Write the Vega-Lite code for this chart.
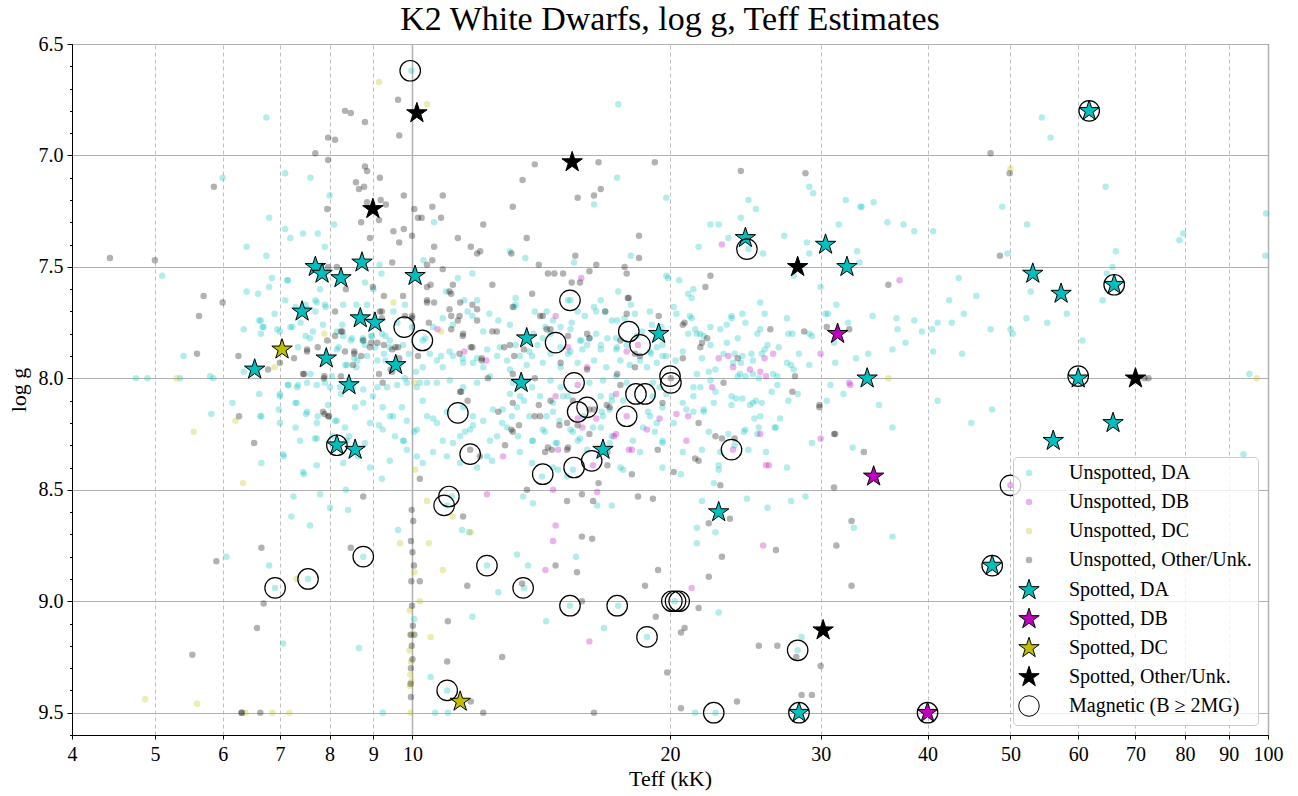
{
"$schema":"https://vega.github.io/schema/vega-lite/v6.json",
"width":1196,"height":691,
"autosize":{"type":"none"},
"padding":{"left":72,"top":44,"right":30,"bottom":61},
"background":"#ffffff",
"title":{"text":"K2 White Dwarfs, log g, Teff Estimates","font":"Liberation Serif","fontSize":34,"fontWeight":"normal","color":"#000000","offset":-3,"anchor":"middle"},
"config":{
 "view":{"stroke":"#000000","strokeWidth":1},
 "font":"Liberation Serif",
 "range":{
  "category":["rgba(0,191,191,0.3)","rgba(191,0,191,0.3)","rgba(191,191,0,0.3)","rgba(0,0,0,0.3)","#00bfbf","#bf00bf","#bfbf00","#000000","transparent"],
  "symbol":["circle","circle","circle","circle","M0,-1L0.2245,-0.309L0.951,-0.309L0.363,0.118L0.588,0.809L0,0.382L-0.588,0.809L-0.363,0.118L-0.951,-0.309L-0.2245,-0.309Z","M0,-1L0.2245,-0.309L0.951,-0.309L0.363,0.118L0.588,0.809L0,0.382L-0.588,0.809L-0.363,0.118L-0.951,-0.309L-0.2245,-0.309Z","M0,-1L0.2245,-0.309L0.951,-0.309L0.363,0.118L0.588,0.809L0,0.382L-0.588,0.809L-0.363,0.118L-0.951,-0.309L-0.2245,-0.309Z","M0,-1L0.2245,-0.309L0.951,-0.309L0.363,0.118L0.588,0.809L0,0.382L-0.588,0.809L-0.363,0.118L-0.951,-0.309L-0.2245,-0.309Z","circle"]
 },
 "legend":{"orient":"bottom-right","direction":"vertical","offset":10,"padding":6,"fillColor":"rgba(255,255,255,0.8)","strokeColor":"#cccccc","cornerRadius":4,"labelFont":"Liberation Serif","labelFontSize":20,"labelColor":"#000000","labelLimit":400,"labelOffset":30,"rowPadding":5,"symbolSize":460,"symbolStrokeWidth":1,"symbolOpacity":1}
},
"datasets":{
"uda":[
{"t":9.97,"g":6.62},{"t":6.75,"g":6.83},{"t":6.0,"g":7.1},{"t":7.1,"g":7.08},{"t":7.6,"g":7.1},{"t":8.0,"g":7.18},{"t":6.8,"g":7.28},{"t":7.1,"g":7.33},{"t":7.2,"g":7.37},{"t":7.45,"g":7.35},{"t":7.75,"g":7.35},{"t":8.1,"g":7.31},{"t":7.9,"g":7.41},{"t":6.4,"g":7.41},{"t":6.75,"g":7.45},{"t":5.1,"g":7.54},{"t":6.85,"g":7.55},{"t":7.15,"g":7.56},{"t":6.8,"g":7.59},{"t":6.6,"g":7.62},{"t":6.4,"g":7.61},{"t":7.1,"g":7.65},{"t":7.7,"g":7.65},{"t":7.8,"g":7.6},{"t":8.8,"g":7.57},{"t":9.0,"g":7.6},{"t":9.2,"g":7.53},{"t":9.15,"g":7.49},{"t":8.3,"g":7.67},{"t":8.6,"g":7.67},{"t":8.85,"g":7.67},{"t":7.9,"g":7.67},{"t":6.65,"g":7.74},{"t":6.35,"g":7.78},{"t":6.7,"g":7.77},{"t":7.2,"g":7.77},{"t":6.9,"g":7.71},{"t":7.5,"g":7.67},{"t":7.7,"g":7.7},{"t":7.4,"g":7.75},{"t":6.65,"g":7.8},{"t":7.0,"g":7.79},{"t":7.5,"g":7.81},{"t":7.65,"g":7.79},{"t":8.3,"g":7.81},{"t":8.5,"g":7.82},{"t":8.75,"g":7.82},{"t":8.95,"g":7.81},{"t":9.3,"g":7.81},{"t":9.5,"g":7.7},{"t":9.8,"g":7.67},{"t":5.4,"g":7.9},{"t":5.8,"g":7.99},{"t":4.75,"g":8.0},{"t":4.9,"g":8.0},{"t":5.35,"g":8.0},{"t":5.85,"g":8.0},{"t":6.35,"g":7.97},{"t":7.15,"g":8.03},{"t":7.35,"g":8.03},{"t":7.6,"g":7.98},{"t":8.2,"g":7.86},{"t":8.55,"g":7.91},{"t":8.6,"g":7.95},{"t":8.8,"g":7.85},{"t":9.05,"g":7.86},{"t":9.4,"g":7.86},{"t":9.65,"g":7.94},{"t":9.75,"g":7.85},{"t":9.9,"g":7.89},{"t":10.1,"g":7.97},{"t":9.8,"g":8.0},{"t":10.2,"g":8.02},{"t":7.9,"g":8.02},{"t":8.05,"g":7.99},{"t":8.35,"g":7.94},{"t":9.3,"g":7.92},
{"t":6.62,"g":7.74},{"t":6.68,"g":7.77},{"t":6.95,"g":7.78},{"t":7.24,"g":7.77},{"t":7.3,"g":7.68},{"t":7.53,"g":7.69},{"t":7.73,"g":7.66},{"t":7.92,"g":7.68},{"t":7.14,"g":7.56},{"t":7.59,"g":7.82},{"t":7.35,"g":7.86},{"t":7.86,"g":7.76},{"t":8.16,"g":7.79},{"t":8.28,"g":7.76},{"t":8.16,"g":7.87},{"t":8.38,"g":7.94},{"t":8.62,"g":7.92},{"t":8.85,"g":7.9},{"t":9.1,"g":7.92},{"t":9.26,"g":7.89},{"t":8.47,"g":7.83},{"t":8.74,"g":7.83},{"t":8.97,"g":7.81},{"t":9.21,"g":7.8},{"t":9.41,"g":7.83},{"t":9.6,"g":7.75},{"t":9.99,"g":7.77},{"t":10.28,"g":7.83},{"t":10.28,"g":7.95},{"t":10.48,"g":7.89},{"t":10.68,"g":7.92},{"t":10.85,"g":7.95},{"t":11.15,"g":7.9},{"t":11.46,"g":7.93},{"t":11.77,"g":7.93},{"t":12.1,"g":7.95},{"t":12.23,"g":7.87},{"t":12.56,"g":7.9},{"t":12.32,"g":7.99},{"t":11.9,"g":8.02},{"t":11.46,"g":8.04},{"t":11.06,"g":8.01},{"t":10.68,"g":8.02},{"t":10.4,"g":8.02},{"t":10.12,"g":8.04},{"t":9.85,"g":8.02},{"t":9.6,"g":8.03},{"t":9.34,"g":8.04},{"t":9.1,"g":8.04},{"t":8.76,"g":8.05},{"t":8.52,"g":8.04},{"t":8.23,"g":8.04},{"t":8.01,"g":8.04},{"t":7.73,"g":8.03},{"t":7.53,"g":8.02},{"t":7.33,"g":8.04},{"t":7.16,"g":8.03},{"t":7.0,"g":8.07},{"t":6.62,"g":8.07},{"t":6.16,"g":8.11},{"t":6.64,"g":8.17},{"t":7.0,"g":8.2},{"t":7.3,"g":8.11},{"t":7.53,"g":8.15},{"t":7.73,"g":8.2},{"t":7.97,"g":8.12},{"t":8.16,"g":8.19},{"t":8.34,"g":8.22},{"t":8.57,"g":8.13},{"t":8.76,"g":8.11},{"t":8.99,"g":8.08},{"t":9.23,"g":8.13},{"t":9.49,"g":8.17},{"t":9.72,"g":8.13},{"t":9.85,"g":8.19},{"t":10.12,"g":8.23},{"t":10.4,"g":8.17},{"t":10.68,"g":8.2},{"t":10.97,"g":8.15},{"t":11.46,"g":8.13},{"t":11.77,"g":8.17},{"t":12.1,"g":8.19},{"t":12.42,"g":8.14},{"t":11.68,"g":8.23},{"t":11.37,"g":8.26},{"t":10.85,"g":8.28},{"t":10.57,"g":8.33},{"t":10.28,"g":8.38},{"t":9.85,"g":8.32},{"t":9.54,"g":8.26},{"t":9.23,"g":8.23},{"t":8.92,"g":8.2},{"t":8.38,"g":8.28},{"t":8.07,"g":8.26},{"t":7.69,"g":8.27},{"t":7.39,"g":8.28},{"t":7.06,"g":8.34},{"t":6.66,"g":8.38},{"t":7.45,"g":8.42},{"t":7.73,"g":8.39},{"t":8.3,"g":8.38},{"t":8.92,"g":8.4},{"t":9.41,"g":8.37},{"t":9.75,"g":8.28},{"t":10.12,"g":8.35},{"t":10.97,"g":8.35},{"t":11.37,"g":8.38},{"t":11.9,"g":8.4},{"t":12.23,"g":8.35},{"t":12.56,"g":8.26},
{"t":5.82,"g":8.16},{"t":6.66,"g":8.17},{"t":7.0,"g":8.08},{"t":6.98,"g":8.14},{"t":7.3,"g":8.22},{"t":7.32,"g":8.11},{"t":7.51,"g":8.16},{"t":7.73,"g":8.27},{"t":7.75,"g":8.17},{"t":8.12,"g":8.19},{"t":8.25,"g":8.07},{"t":8.43,"g":8.26},{"t":8.8,"g":8.29},{"t":8.64,"g":8.35},{"t":7.07,"g":8.35},{"t":7.47,"g":8.43},{"t":9.21,"g":8.45},{"t":9.14,"g":8.21},{"t":9.41,"g":8.17},{"t":9.77,"g":8.28},{"t":10.05,"g":8.24},{"t":7.26,"g":8.53},{"t":7.8,"g":8.52},{"t":8.36,"g":8.5},{"t":8.01,"g":8.58},{"t":8.41,"g":8.59},{"t":7.22,"g":8.62},{"t":7.59,"g":8.66},{"t":9.62,"g":8.68},{"t":6.06,"g":8.8},{"t":6.8,"g":8.84},{"t":6.91,"g":8.94},{"t":7.55,"g":8.9},{"t":8.76,"g":8.8},{"t":7.06,"g":9.19},{"t":8.66,"g":9.21},{"t":9.23,"g":9.5},{"t":10.05,"g":9.08},
{"t":10.28,"g":8.1},{"t":10.57,"g":8.18},{"t":11.15,"g":8.29},{"t":11.52,"g":8.24},{"t":11.77,"g":8.21},{"t":12.32,"g":8.28},{"t":12.39,"g":8.37},{"t":12.73,"g":8.2},{"t":13.07,"g":8.17},{"t":13.36,"g":8.08},{"t":13.29,"g":8.26},{"t":13.83,"g":8.28},{"t":14.29,"g":8.24},{"t":14.6,"g":8.15},{"t":14.76,"g":8.29},{"t":15.0,"g":8.08},{"t":15.4,"g":8.24},{"t":15.7,"g":8.27},{"t":15.83,"g":8.17},{"t":16.26,"g":8.22},{"t":16.7,"g":8.17},{"t":17.1,"g":8.08},{"t":17.63,"g":8.1},{"t":18.1,"g":8.28},{"t":18.96,"g":8.17},{"t":19.2,"g":8.24},{"t":19.6,"g":8.28},{"t":19.8,"g":8.07},{"t":13.47,"g":8.53},{"t":13.83,"g":8.56},{"t":14.17,"g":8.44},{"t":14.8,"g":8.41},{"t":15.16,"g":8.44},{"t":15.4,"g":8.41},{"t":16.44,"g":8.57},{"t":17.1,"g":8.57},{"t":17.63,"g":8.41},{"t":13.25,"g":8.79},{"t":13.65,"g":8.84},{"t":15.53,"g":8.8},{"t":13.5,"g":8.94},{"t":15.28,"g":9.02},{"t":17.4,"g":9.02},{"t":14.33,"g":9.09},{"t":16.74,"g":9.12},{"t":18.8,"g":9.16},{"t":20.25,"g":9.0},{"t":11.75,"g":9.07},{"t":11.65,"g":8.69},{"t":12.22,"g":8.84},{"t":12.6,"g":8.96},{"t":10.5,"g":9.34},{"t":10.98,"g":9.4},{"t":10.63,"g":9.5},{"t":11.0,"g":9.5},{"t":11.43,"g":8.68},{"t":11.12,"g":8.53},{"t":10.98,"g":8.57},
{"t":20.2,"g":8.2},{"t":20.7,"g":8.11},{"t":21.3,"g":8.15},{"t":21.9,"g":8.15},{"t":22.5,"g":8.11},{"t":23.6,"g":8.08},{"t":24.3,"g":8.09},{"t":25.0,"g":8.11},{"t":25.6,"g":8.11},{"t":20.6,"g":8.43},{"t":20.7,"g":8.33},{"t":22.2,"g":8.24},{"t":22.9,"g":8.33},{"t":23.4,"g":8.25},{"t":24.5,"g":8.23},{"t":25.3,"g":8.25},{"t":22.8,"g":8.39},{"t":22.5,"g":8.47},{"t":24.6,"g":8.54},{"t":21.8,"g":8.55},{"t":21.5,"g":8.67},{"t":21.5,"g":8.74},{"t":22.6,"g":8.69},{"t":22.8,"g":9.05},{"t":21.4,"g":9.5},{"t":22.6,"g":9.5},{"t":26.0,"g":8.58},
{"t":24.7,"g":7.2},{"t":25.2,"g":7.24},{"t":24.2,"g":7.28},{"t":29.1,"g":7.14},{"t":29.4,"g":7.17},{"t":22.3,"g":7.31},{"t":22.8,"g":7.31},{"t":23.4,"g":7.37},{"t":21.6,"g":7.41},{"t":25.7,"g":7.44},{"t":27.2,"g":7.36},{"t":28.9,"g":7.39},{"t":29.1,"g":7.44},{"t":31.5,"g":7.31},{"t":32.1,"g":7.2},{"t":27.9,"g":7.54},{"t":20.5,"g":7.56},{"t":21.0,"g":7.62},{"t":21.2,"g":7.64},{"t":21.3,"g":7.6},{"t":20.2,"g":7.68},{"t":19.8,"g":7.54},{"t":25.5,"g":7.66},{"t":25.8,"g":7.71},{"t":24.3,"g":7.71},{"t":24.5,"g":7.75},{"t":23.6,"g":7.73},{"t":23.3,"g":7.76},{"t":22.9,"g":7.78},{"t":22.3,"g":7.77},{"t":21.9,"g":7.81},{"t":21.4,"g":7.78},{"t":21.1,"g":7.72},{"t":21.0,"g":7.8},{"t":21.5,"g":7.8},{"t":21.7,"g":7.8},{"t":20.7,"g":7.88},{"t":20.3,"g":7.92},{"t":22.3,"g":7.85},{"t":23.3,"g":7.84},{"t":24.0,"g":7.82},{"t":25.3,"g":7.8},{"t":25.5,"g":7.78},{"t":26.0,"g":7.85},{"t":26.8,"g":7.86},{"t":27.5,"g":7.8},{"t":27.8,"g":7.8},{"t":27.4,"g":7.73},{"t":29.1,"g":7.8},{"t":29.3,"g":7.81},{"t":30.6,"g":7.71},{"t":31.3,"g":7.67},{"t":30.0,"g":7.59},{"t":31.1,"g":7.84},{"t":31.2,"g":7.93},{"t":29.1,"g":7.94},{"t":28.3,"g":7.89},{"t":27.7,"g":7.94},{"t":27.9,"g":7.96},{"t":27.4,"g":7.93},{"t":26.7,"g":7.99},{"t":26.4,"g":7.98},{"t":25.8,"g":7.87},{"t":25.6,"g":7.89},{"t":24.9,"g":7.89},{"t":25.0,"g":7.92},{"t":24.3,"g":7.9},{"t":23.8,"g":7.89},{"t":23.7,"g":7.93},{"t":24.2,"g":7.93},{"t":24.15,"g":7.98},{"t":24.5,"g":7.99},{"t":24.0,"g":7.99},{"t":25.0,"g":7.98},{"t":25.4,"g":8.0},{"t":23.1,"g":7.89},{"t":22.6,"g":7.96},{"t":22.2,"g":7.97},{"t":22.3,"g":8.01},{"t":21.8,"g":7.91},{"t":21.5,"g":7.98},{"t":21.3,"g":8.04},{"t":21.7,"g":8.04},{"t":21.3,"g":8.08},{"t":20.9,"g":8.14},{"t":21.9,"g":8.14},{"t":22.6,"g":8.06},{"t":23.6,"g":8.12},{"t":23.9,"g":8.09},{"t":24.8,"g":8.12},{"t":25.2,"g":8.1},{"t":26.3,"g":8.06},{"t":26.7,"g":8.03},{"t":27.5,"g":8.1},{"t":28.2,"g":8.07},{"t":26.9,"g":8.18},{"t":25.5,"g":8.17},{"t":25.1,"g":8.18},{"t":25.4,"g":8.22},{"t":24.4,"g":8.24},{"t":26.5,"g":8.22},{"t":25.9,"g":8.33},{"t":24.7,"g":8.32},{"t":23.8,"g":8.3},{"t":22.8,"g":8.41},{"t":21.8,"g":8.32},{"t":27.4,"g":8.4},{"t":29.3,"g":8.29},{"t":30.8,"g":8.03},{"t":31.9,"g":8.07},{"t":30.4,"g":7.71},{"t":33.4,"g":7.23},{"t":33.1,"g":7.43},{"t":32.7,"g":8.31},{"t":33.0,"g":7.91},{"t":32.3,"g":7.75},
{"t":17.4,"g":6.77},{"t":17.35,"g":7.1},{"t":19.8,"g":7.19},{"t":16.3,"g":7.22},{"t":13.0,"g":7.43},{"t":13.55,"g":7.46},{"t":15.45,"g":7.48},{"t":18.0,"g":7.45},{"t":19.9,"g":7.55},{"t":10.6,"g":7.3},{"t":10.3,"g":7.47},{"t":11.75,"g":7.53},{"t":10.95,"g":7.61},{"t":11.3,"g":7.55},{"t":11.9,"g":7.65},{"t":11.5,"g":7.65},{"t":13.2,"g":7.64},{"t":13.2,"g":7.67},{"t":15.3,"g":7.65},{"t":16.6,"g":7.65},{"t":16.3,"g":7.68},{"t":17.4,"g":7.61},{"t":18.0,"g":7.67},{"t":18.95,"g":7.7},{"t":20.35,"g":7.71},{"t":21.2,"g":7.73},{"t":23.6,"g":7.72},{"t":24.7,"g":7.42},{"t":10.35,"g":7.82},{"t":10.57,"g":7.77},{"t":10.85,"g":7.73},{"t":11.15,"g":7.76},{"t":11.6,"g":7.7},{"t":11.75,"g":7.72},{"t":12.1,"g":7.79},{"t":12.3,"g":7.71},{"t":12.6,"g":7.74},{"t":13.0,"g":7.76},{"t":13.9,"g":7.7},{"t":14.35,"g":7.7},{"t":14.6,"g":7.74},{"t":15.2,"g":7.65},{"t":15.6,"g":7.7},{"t":15.9,"g":7.72},{"t":16.4,"g":7.7},{"t":16.8,"g":7.7},{"t":17.35,"g":7.74},{"t":17.7,"g":7.73},{"t":18.2,"g":7.71},{"t":18.55,"g":7.79},{"t":19.05,"g":7.76},{"t":19.55,"g":7.77},{"t":12.65,"g":7.86},{"t":13.2,"g":7.85},{"t":13.7,"g":7.88},{"t":14.0,"g":7.85},{"t":14.5,"g":7.8},{"t":14.9,"g":7.86},{"t":15.3,"g":7.88},{"t":15.7,"g":7.83},{"t":16.0,"g":7.85},{"t":16.6,"g":7.85},{"t":16.9,"g":7.82},{"t":17.3,"g":7.87},{"t":17.8,"g":7.85},{"t":18.3,"g":7.81},{"t":18.95,"g":7.88},{"t":19.6,"g":7.85},{"t":19.8,"g":7.9},{"t":11.45,"g":7.91},{"t":11.9,"g":7.91},{"t":10.8,"g":7.9},{"t":11.05,"g":7.88},
{"t":13.15,"g":7.68},{"t":13.85,"g":7.8},{"t":14.3,"g":7.77},{"t":14.2,"g":7.82},{"t":14.9,"g":7.77},{"t":15.3,"g":7.78},{"t":15.35,"g":7.75},{"t":15.75,"g":7.83},{"t":16.1,"g":7.82},{"t":16.4,"g":7.8},{"t":17.1,"g":7.74},{"t":17.3,"g":7.82},{"t":17.35,"g":7.86},{"t":16.6,"g":7.87},{"t":15.8,"g":7.87},{"t":15.2,"g":7.89},{"t":14.5,"g":7.89},{"t":13.8,"g":7.9},{"t":13.35,"g":7.9},{"t":12.9,"g":7.92},{"t":13.0,"g":7.96},{"t":13.6,"g":7.94},{"t":14.2,"g":7.93},{"t":14.9,"g":7.95},{"t":15.6,"g":7.93},{"t":16.3,"g":7.92},{"t":16.85,"g":7.95},{"t":17.5,"g":7.92},{"t":17.95,"g":7.94},{"t":18.45,"g":7.92},{"t":18.8,"g":7.95},{"t":19.3,"g":7.93},{"t":19.6,"g":7.9},{"t":19.3,"g":7.86},{"t":19.0,"g":7.89},{"t":13.1,"g":8.02},{"t":13.8,"g":8.04},{"t":14.5,"g":8.01},{"t":14.9,"g":8.04},{"t":16.1,"g":8.02},{"t":16.7,"g":8.01},{"t":17.3,"g":7.99},{"t":17.8,"g":8.02},{"t":19.1,"g":8.02},{"t":19.45,"g":8.04},{"t":13.0,"g":8.07},{"t":13.5,"g":8.1},{"t":14.1,"g":8.08},{"t":14.6,"g":8.11},{"t":15.2,"g":8.08},{"t":16.6,"g":8.08},{"t":17.1,"g":8.1},{"t":19.1,"g":8.08},{"t":19.6,"g":8.13},{"t":12.75,"g":8.14},{"t":13.25,"g":8.13},{"t":13.7,"g":8.17},{"t":14.35,"g":8.17},{"t":14.85,"g":8.19},{"t":16.65,"g":8.15},{"t":17.0,"g":8.14},{"t":18.85,"g":8.15},{"t":19.3,"g":8.2},{"t":12.9,"g":8.22},{"t":14.2,"g":8.23},{"t":15.3,"g":8.23},{"t":16.6,"g":8.22},{"t":17.1,"g":8.26},{"t":18.6,"g":8.22},{"t":13.8,"g":8.28},{"t":14.7,"g":8.29},{"t":15.6,"g":8.28},{"t":16.0,"g":8.32},{"t":17.0,"g":8.29},{"t":17.5,"g":8.4},{"t":18.45,"g":8.33},{"t":19.6,"g":8.29},{"t":19.6,"g":8.4},{"t":13.35,"g":8.33},{"t":14.6,"g":8.4},{"t":13.8,"g":8.38},
{"t":54.4,"g":6.83},{"t":55.7,"g":6.92},{"t":64.6,"g":7.14},{"t":48.9,"g":7.23},{"t":52.3,"g":7.31},{"t":78.8,"g":7.38},{"t":79.6,"g":7.35},{"t":99.5,"g":7.26},{"t":99.3,"g":7.45},{"t":49.6,"g":7.44},{"t":66.4,"g":7.43},{"t":65.8,"g":7.5},{"t":64.8,"g":7.53},{"t":64.1,"g":7.65},{"t":52.8,"g":7.61},{"t":43.5,"g":7.55},{"t":42.4,"g":7.65},{"t":45.6,"g":7.63},{"t":42.7,"g":7.75},{"t":44.1,"g":7.71},{"t":41.1,"g":7.75},{"t":40.5,"g":7.78},{"t":39.4,"g":7.79},{"t":38.6,"g":7.74},{"t":37.7,"g":7.84},{"t":36.9,"g":7.78},{"t":36.8,"g":7.73},{"t":36.4,"g":7.87},{"t":40.6,"g":7.88},{"t":43.9,"g":7.89},{"t":47.4,"g":7.78},{"t":50.0,"g":7.78},{"t":50.3,"g":7.8},{"t":52.2,"g":7.73},{"t":55.2,"g":7.75},{"t":58.2,"g":7.71},{"t":60.7,"g":7.83},{"t":34.5,"g":7.72},{"t":34.1,"g":7.89},{"t":33.3,"g":7.48},{"t":33.5,"g":7.23},{"t":34.6,"g":7.21},{"t":35.9,"g":7.3},{"t":37.5,"g":7.31},{"t":38.6,"g":7.34},{"t":40.6,"g":7.34},{"t":95.1,"g":7.98},
{"t":35.1,"g":8.12},{"t":41.1,"g":8.1},{"t":47.6,"g":8.14},{"t":45.0,"g":8.2},{"t":36.4,"g":8.22},{"t":93.6,"g":8.34},{"t":32.8,"g":8.67},{"t":36.4,"g":8.71},{"t":30.5,"g":8.1},{"t":28.8,"g":8.53},{"t":27.7,"g":8.55},{"t":26.6,"g":8.22},{"t":28.5,"g":9.16},{"t":28.2,"g":9.22}
],
"udb":[
{"t":12.76,"g":8.35},{"t":12.22,"g":8.52},{"t":14.7,"g":8.66},{"t":14.6,"g":8.73},{"t":14.3,"g":8.86},{"t":16.1,"g":9.18},{"t":16.26,"g":8.39},{"t":16.44,"g":8.51},{"t":14.6,"g":8.5},{"t":17.2,"g":8.26},{"t":17.9,"g":8.32},{"t":18.8,"g":8.23},{"t":17.8,"g":8.17},{"t":20.35,"g":8.16},{"t":20.9,"g":8.28},{"t":25.5,"g":8.25},{"t":25.9,"g":8.39},{"t":25.7,"g":8.75},{"t":21.2,"g":8.94},{"t":23.0,"g":7.4},{"t":30.0,"g":7.89},{"t":32.5,"g":8.03},{"t":23.4,"g":7.9},{"t":22.8,"g":7.91},{"t":24.8,"g":7.96},{"t":25.5,"g":7.97},{"t":25.8,"g":7.91},{"t":23.7,"g":7.95},{"t":25.9,"g":7.99},{"t":26.4,"g":7.89},{"t":22.4,"g":8.04},{"t":21.0,"g":8.17},{"t":23.7,"g":8.32},{"t":26.1,"g":8.39},{"t":30.0,"g":8.27},{"t":15.75,"g":7.55},{"t":14.7,"g":7.72},{"t":10.7,"g":7.78},{"t":15.2,"g":7.86},{"t":16.0,"g":7.95},{"t":15.6,"g":8.03},{"t":17.8,"g":7.88},{"t":18.35,"g":7.85},{"t":17.3,"g":8.07},{"t":14.7,"g":8.08},{"t":15.6,"g":8.18},{"t":16.4,"g":8.18},{"t":17.3,"g":8.25},{"t":19.45,"g":8.18},{"t":15.8,"g":8.22},{"t":14.8,"g":8.32},{"t":18.05,"g":8.32},{"t":37.1,"g":7.56},{"t":32.4,"g":8.02},{"t":50.0,"g":8.48},{"t":11.5,"g":7.88},{"t":12.2,"g":7.92}
],
"udc":[
{"t":5.55,"g":8.24},{"t":6.21,"g":8.19},{"t":6.34,"g":8.47},{"t":4.87,"g":9.44},{"t":5.6,"g":9.46},{"t":6.38,"g":9.5},{"t":6.86,"g":9.5},{"t":7.18,"g":9.5},{"t":7.32,"g":8.9},{"t":9.67,"g":8.74},{"t":10.05,"g":8.87},{"t":9.93,"g":9.04},{"t":9.97,"g":9.15},{"t":9.92,"g":9.22},{"t":9.96,"g":9.27},{"t":9.94,"g":9.33},{"t":9.97,"g":9.36},{"t":9.93,"g":9.38},{"t":9.95,"g":9.5},{"t":10.2,"g":9.0},{"t":10.07,"g":8.41},{"t":9.14,"g":6.67},{"t":9.5,"g":7.66},{"t":7.89,"g":7.8},{"t":6.9,"g":7.95},{"t":5.3,"g":8.0},{"t":10.05,"g":8.02},{"t":10.8,"g":7.79},{"t":10.4,"g":6.77},{"t":10.4,"g":8.55},{"t":10.45,"g":8.74},{"t":10.85,"g":8.86},{"t":11.15,"g":8.62},{"t":11.7,"g":8.69},{"t":10.5,"g":9.16},{"t":50.0,"g":7.06},{"t":36.0,"g":8.0},{"t":97.0,"g":8.0}
],
"uot":[
{"t":4.43,"g":7.46},{"t":5.0,"g":7.47},{"t":5.86,"g":7.14},{"t":5.7,"g":7.63},{"t":6.0,"g":7.66},{"t":5.63,"g":7.72},{"t":5.6,"g":7.89},{"t":6.26,"g":7.9},{"t":6.78,"g":7.96},{"t":7.0,"g":7.93},{"t":7.27,"g":7.91},{"t":7.53,"g":7.88},{"t":7.75,"g":7.86},{"t":7.95,"g":7.83},{"t":8.25,"g":7.79},{"t":8.12,"g":7.7},{"t":8.36,"g":7.6},{"t":8.16,"g":7.5},{"t":8.55,"g":7.88},{"t":8.76,"g":7.83},{"t":8.95,"g":7.84},{"t":9.21,"g":7.7},{"t":9.26,"g":7.63},{"t":9.75,"g":7.63},{"t":9.47,"g":7.48},{"t":9.65,"g":7.39},{"t":9.77,"g":7.33},{"t":9.5,"g":7.34},{"t":9.99,"g":7.36},{"t":10.15,"g":7.28},{"t":10.05,"g":7.24},{"t":9.77,"g":7.18},{"t":9.31,"g":7.22},{"t":9.18,"g":7.2},{"t":8.85,"g":7.21},{"t":8.71,"g":7.3},{"t":9.14,"g":7.29},{"t":8.92,"g":7.37},{"t":8.59,"g":7.12},{"t":8.66,"g":7.15},{"t":8.78,"g":7.14},{"t":9.16,"g":7.1},{"t":8.8,"g":7.05},{"t":8.85,"g":7.07},{"t":7.7,"g":6.99},{"t":7.97,"g":7.02},{"t":7.97,"g":6.92},{"t":8.12,"g":6.93},{"t":8.34,"g":6.8},{"t":8.47,"g":6.81},{"t":8.8,"g":6.85},{"t":9.62,"g":6.75},{"t":9.65,"g":6.91},{"t":7.95,"g":7.24},{"t":7.97,"g":7.5},{"t":9.8,"g":7.72},{"t":9.99,"g":7.72},{"t":8.34,"g":7.88},{"t":8.71,"g":7.9},{"t":9.55,"g":7.86},{"t":9.65,"g":7.91},{"t":9.43,"g":7.96},{"t":7.47,"g":7.98},{"t":7.89,"g":7.99},{"t":8.52,"g":7.94},{"t":8.25,"g":7.99},{"t":9.14,"g":7.98},{"t":9.23,"g":8.02},
{"t":7.86,"g":8.15},{"t":7.97,"g":8.17},{"t":7.45,"g":7.98},{"t":7.88,"g":8.0},{"t":7.53,"g":7.87},{"t":8.12,"g":7.81},{"t":8.28,"g":7.79},{"t":8.55,"g":7.89},{"t":8.92,"g":7.86},{"t":9.1,"g":7.84},{"t":9.26,"g":7.85},{"t":9.47,"g":7.87},{"t":9.62,"g":7.86},{"t":9.47,"g":7.97},{"t":9.16,"g":7.7},{"t":9.21,"g":7.73},{"t":8.99,"g":7.59},{"t":9.99,"g":7.73},{"t":10.15,"g":7.9},
{"t":10.6,"g":7.66},{"t":11.05,"g":7.61},{"t":11.37,"g":7.66},{"t":11.05,"g":7.69},{"t":11.3,"g":7.74},{"t":11.9,"g":7.74},{"t":11.9,"g":7.69},{"t":11.46,"g":7.8},{"t":11.1,"g":7.78},{"t":11.7,"g":7.86},{"t":12.05,"g":7.91},{"t":12.05,"g":7.92},{"t":12.25,"g":8.0},{"t":11.37,"g":8.06},{"t":11.6,"g":8.1},{"t":12.6,"g":8.15},{"t":11.68,"g":8.32},{"t":10.45,"g":7.75},{"t":10.4,"g":7.66},{"t":10.5,"g":7.58},{"t":10.4,"g":7.59},{"t":10.55,"g":7.47},{"t":10.4,"g":7.49},{"t":11.9,"g":7.44},{"t":12.55,"g":7.79},
{"t":9.98,"g":8.59},{"t":10.02,"g":8.64},{"t":9.96,"g":8.73},{"t":10.0,"g":8.78},{"t":10.04,"g":8.84},{"t":9.97,"g":8.91},{"t":9.99,"g":9.02},{"t":10.01,"g":9.11},{"t":9.95,"g":9.15},{"t":9.98,"g":9.2},{"t":10.0,"g":9.26},{"t":9.96,"g":9.3},{"t":9.95,"g":9.37},{"t":9.96,"g":9.43},{"t":10.2,"g":8.91},{"t":10.05,"g":9.15},{"t":10.2,"g":8.45},
{"t":6.27,"g":8.17},{"t":6.53,"g":8.29},{"t":7.89,"g":8.16},{"t":7.99,"g":8.17},{"t":8.76,"g":8.53},{"t":6.66,"g":8.76},{"t":5.9,"g":8.82},{"t":8.47,"g":8.76},{"t":6.7,"g":9.01},{"t":6.58,"g":9.12},{"t":5.53,"g":9.24},{"t":6.31,"g":9.5},{"t":6.32,"g":9.5},{"t":6.64,"g":9.5},
{"t":11.46,"g":8.62},{"t":11.59,"g":8.93},{"t":11.0,"g":9.09},{"t":10.98,"g":9.27},{"t":11.7,"g":9.45},{"t":12.1,"g":9.5},{"t":12.73,"g":9.25},{"t":13.1,"g":8.24},{"t":13.32,"g":8.21},{"t":12.83,"g":8.3},{"t":13.61,"g":8.5},{"t":13.43,"g":8.92},{"t":14.1,"g":8.17},{"t":14.29,"g":8.33},{"t":14.55,"g":8.32},{"t":15.16,"g":8.32},{"t":15.16,"g":8.55},{"t":14.7,"g":8.84},{"t":15.78,"g":8.52},{"t":16.26,"g":8.55},{"t":15.78,"g":8.71},{"t":16.22,"g":8.72},{"t":15.57,"g":8.87},{"t":15.78,"g":9.0},{"t":16.3,"g":9.5},{"t":16.5,"g":8.47},{"t":16.9,"g":8.39},{"t":18.05,"g":8.43},{"t":18.35,"g":8.53},{"t":19.1,"g":8.54},{"t":19.37,"g":8.86},{"t":18.7,"g":8.93},{"t":19.25,"g":9.07},{"t":19.85,"g":9.32},{"t":16.87,"g":8.12},{"t":15.4,"g":8.1},{"t":14.85,"g":8.21},{"t":15.16,"g":8.2},{"t":14.05,"g":8.12},{"t":13.1,"g":8.11},{"t":11.4,"g":8.06},{"t":11.99,"g":8.35},
{"t":20.2,"g":8.42},{"t":20.6,"g":9.14},{"t":20.8,"g":9.12},{"t":21.6,"g":9.03},{"t":22.2,"g":8.89},{"t":23.0,"g":8.8},{"t":22.2,"g":8.65},{"t":23.5,"g":8.63},{"t":22.9,"g":8.48},{"t":22.6,"g":8.26},{"t":23.0,"g":8.27},{"t":21.4,"g":8.36},{"t":21.6,"g":8.37},{"t":21.6,"g":8.2},{"t":25.4,"g":9.2},{"t":20.6,"g":9.48},{"t":23.95,"g":9.45},
{"t":22.3,"g":7.54},{"t":22.0,"g":7.59},{"t":20.7,"g":7.76},{"t":21.8,"g":7.84},{"t":22.1,"g":7.82},{"t":21.7,"g":7.86},{"t":20.7,"g":7.91},{"t":24.0,"g":7.91},{"t":26.2,"g":7.78},{"t":28.7,"g":7.79},{"t":30.5,"g":7.77},{"t":32.4,"g":7.78},{"t":28.0,"g":7.99},{"t":27.8,"g":8.06},{"t":29.9,"g":8.13},{"t":31.1,"g":8.25},{"t":23.1,"g":8.02},{"t":23.8,"g":8.27},{"t":19.6,"g":8.11},{"t":20.05,"g":8.0},
{"t":13.9,"g":7.04},{"t":16.5,"g":7.03},{"t":19.2,"g":7.03},{"t":13.45,"g":7.11},{"t":15.6,"g":7.19},{"t":16.3,"g":7.18},{"t":16.6,"g":7.15},{"t":10.85,"g":7.18},{"t":10.55,"g":7.23},{"t":10.25,"g":7.28},{"t":10.8,"g":7.28},{"t":13.1,"g":7.23},{"t":12.1,"g":7.31},{"t":11.3,"g":7.37},{"t":11.7,"g":7.41},{"t":12.0,"g":7.43},{"t":10.6,"g":7.41},{"t":13.6,"g":7.37},{"t":18.4,"g":7.36},{"t":18.4,"g":7.46},{"t":13.05,"g":7.44},{"t":15.5,"g":7.45},{"t":14.05,"g":7.49},{"t":14.4,"g":7.53},{"t":14.65,"g":7.53},{"t":15.0,"g":7.53},{"t":16.4,"g":7.49},{"t":16.1,"g":7.52},{"t":17.7,"g":7.5},{"t":17.8,"g":7.53},{"t":10.85,"g":7.51},{"t":11.15,"g":7.58},{"t":12.4,"g":7.58},{"t":15.35,"g":7.57},{"t":15.7,"g":7.57},{"t":13.8,"g":7.62},{"t":17.85,"g":7.64},{"t":11.1,"g":7.62},{"t":10.4,"g":7.65},{"t":11.75,"g":7.67},{"t":11.35,"g":7.72},{"t":11.1,"g":7.72},{"t":11.45,"g":7.81},{"t":12.4,"g":7.79},{"t":14.1,"g":7.72},{"t":14.2,"g":7.72},{"t":17.8,"g":7.71},{"t":19.4,"g":7.72},{"t":14.35,"g":7.78},{"t":11.35,"g":7.89},{"t":11.75,"g":7.86},{"t":12.8,"g":7.86},{"t":13.0,"g":7.85},{"t":15.2,"g":7.81},{"t":16.1,"g":7.82},{"t":17.5,"g":7.83},{"t":18.2,"g":7.89},{"t":24.2,"g":7.07},{"t":20.8,"g":7.75},
{"t":13.1,"g":7.68},{"t":14.5,"g":7.78},{"t":13.15,"g":7.9},{"t":13.5,"g":7.87},{"t":13.1,"g":7.98},{"t":13.9,"g":8.0},{"t":14.9,"g":7.93},{"t":16.0,"g":7.8},{"t":17.9,"g":7.64},{"t":16.8,"g":7.7},{"t":14.5,"g":8.1},{"t":16.0,"g":7.96},{"t":17.5,"g":8.03},{"t":17.35,"g":7.98},{"t":18.45,"g":7.9},{"t":18.2,"g":7.95},{"t":13.05,"g":8.23},{"t":13.9,"g":8.17},{"t":15.6,"g":8.21},{"t":16.1,"g":8.14},{"t":16.3,"g":8.14},{"t":17.0,"g":8.13},{"t":14.4,"g":8.31},{"t":15.2,"g":8.31},{"t":16.1,"g":8.25},{"t":16.9,"g":8.33},{"t":19.35,"g":8.32},
{"t":47.4,"g":6.99},{"t":49.9,"g":7.08},{"t":48.6,"g":7.45},{"t":36.0,"g":7.58},{"t":72.5,"g":8.0},{"t":71.7,"g":8.0},{"t":28.8,"g":7.08},
{"t":29.9,"g":8.12},{"t":31.2,"g":8.25},{"t":31.1,"g":8.49},{"t":31.3,"g":8.75},{"t":26.6,"g":8.77},{"t":33.7,"g":8.33},{"t":32.6,"g":8.64},{"t":32.6,"g":8.93},{"t":26.7,"g":9.2},{"t":28.1,"g":9.25},{"t":30.0,"g":9.29},{"t":28.5,"g":9.42},{"t":29.3,"g":9.42}
],
"sda":[
{"t":6.54,"g":7.96},{"t":7.43,"g":7.7},{"t":7.7,"g":7.5},{"t":7.84,"g":7.53},{"t":8.25,"g":7.55},{"t":8.73,"g":7.48},{"t":10.07,"g":7.54},{"t":8.69,"g":7.73},{"t":9.04,"g":7.75},{"t":7.93,"g":7.91},{"t":9.56,"g":7.94},{"t":8.43,"g":8.03},{"t":8.16,"g":8.3},{"t":8.57,"g":8.32},{"t":13.4,"g":8.02},{"t":13.6,"g":7.82},{"t":16.7,"g":8.32},{"t":19.4,"g":7.8},{"t":22.8,"g":8.6},{"t":24.5,"g":7.37},{"t":30.4,"g":7.4},{"t":32.2,"g":7.5},{"t":34.0,"g":8.0},{"t":53.1,"g":7.53},{"t":57.3,"g":7.62},{"t":66.1,"g":7.58},{"t":61.8,"g":6.8},{"t":60.0,"g":8.0},{"t":56.1,"g":8.28},{"t":65.9,"g":8.2},{"t":47.6,"g":8.84},{"t":28.3,"g":9.5}
],
"sdb":[{"t":31.4,"g":7.8},{"t":34.6,"g":8.44},{"t":40.0,"g":9.5}],
"sdc":[{"t":7.04,"g":7.87},{"t":11.37,"g":9.45}],
"sot":[{"t":10.12,"g":6.81},{"t":8.99,"g":7.24},{"t":15.37,"g":7.03},{"t":28.2,"g":7.5},{"t":30.2,"g":9.13},{"t":70.0,"g":8.0}],
"mag":[
{"t":9.94,"g":6.62},{"t":9.78,"g":7.77},{"t":10.27,"g":7.83},{"t":11.3,"g":8.155},{"t":11.68,"g":8.34},{"t":15.28,"g":7.65},{"t":14.7,"g":7.84},{"t":17.9,"g":7.79},{"t":18.45,"g":7.85},{"t":20.0,"g":7.99},{"t":20.05,"g":8.02},{"t":15.45,"g":8.02},{"t":18.25,"g":8.07},{"t":18.7,"g":8.07},{"t":15.6,"g":8.15},{"t":16.0,"g":8.13},{"t":17.8,"g":8.17},{"t":15.45,"g":8.4},{"t":16.2,"g":8.37},{"t":14.2,"g":8.43},{"t":23.6,"g":8.32},{"t":11.03,"g":8.53},{"t":10.89,"g":8.57},{"t":12.22,"g":8.84},{"t":13.47,"g":8.94},{"t":15.28,"g":9.02},{"t":17.35,"g":9.02},{"t":20.1,"g":9.0},{"t":20.3,"g":9.0},{"t":20.5,"g":9.0},{"t":18.8,"g":9.16},{"t":10.98,"g":9.4},{"t":22.5,"g":9.5},{"t":6.91,"g":8.94},{"t":7.55,"g":8.9},{"t":8.76,"g":8.8},{"t":8.16,"g":8.3},{"t":50.0,"g":8.48},{"t":28.2,"g":9.22},{"t":24.6,"g":7.42},{"t":61.8,"g":6.8},{"t":66.1,"g":7.58},{"t":60.0,"g":7.99},{"t":47.6,"g":8.84},{"t":28.3,"g":9.5},{"t":40.0,"g":9.5}
]
},
"encoding":{
 "x":{"field":"t","type":"quantitative","title":"Teff (kK)",
  "scale":{"type":"log","domain":[4,100],"nice":false},
  "axis":{"values":[4,5,6,7,8,9,10,20,30,40,50,60,70,80,90,100],"format":"d","labelFlush":false,"labelOverlap":false,
   "labelFont":"Liberation Serif","labelFontSize":20,"labelColor":"#000000","labelPadding":5,
   "tickColor":"#000000","tickSize":4,"domainColor":"#000000",
   "titleFont":"Liberation Serif","titleFontSize":22,"titleFontWeight":"normal","titleColor":"#000000","titlePadding":4,
   "grid":true,
   "gridColor":{"condition":{"test":"datum.value == 10 || datum.value == 100","value":"#b0b0b0"},"value":"#b8b8b8"},
   "gridDash":{"condition":{"test":"datum.value == 10 || datum.value == 100","value":[]},"value":[4,3]},
   "gridWidth":{"condition":{"test":"datum.value == 10 || datum.value == 100","value":1.5},"value":0.9}}},
 "y":{"field":"g","type":"quantitative","title":"log g",
  "scale":{"domain":[6.5,9.6],"reverse":true,"nice":false,"zero":false},
  "axis":{"values":[6.5,6.6,6.7,6.8,6.9,7.0,7.1,7.2,7.3,7.4,7.5,7.6,7.7,7.8,7.9,8.0,8.1,8.2,8.3,8.4,8.5,8.6,8.7,8.8,8.9,9.0,9.1,9.2,9.3,9.4,9.5,9.6],
   "labelExpr":"abs(datum.value*2 - round(datum.value*2)) < 0.01 ? format(datum.value, '.1f') : ''",
   "labelFont":"Liberation Serif","labelFontSize":20,"labelColor":"#000000","labelPadding":4,"labelFlush":false,"labelOverlap":false,
   "tickColor":"#000000","domainColor":"#000000",
   "tickSize":{"condition":{"test":"abs(datum.value*2 - round(datum.value*2)) < 0.01","value":5},"value":2.5},
   "titleFont":"Liberation Serif","titleFontSize":22,"titleFontWeight":"normal","titleColor":"#000000","titlePadding":8,
   "grid":true,"gridColor":"#b0b0b0","gridWidth":1.2,
   "gridOpacity":{"condition":{"test":"abs(datum.value*2 - round(datum.value*2)) < 0.01","value":1},"value":0}}}
},
"layer":[
 {"data":{"values":[{"lo":10.5,"hi":12.5}]},"mark":{"type":"rect","color":"#00bfbf","opacity":0.2},
  "encoding":{"x":{"field":"lo","type":"quantitative"},"x2":{"field":"hi"},"y":{"datum":6.5},"y2":{"datum":9.6}}},
 {"data":{"values":[{"lo":20,"hi":32}]},"mark":{"type":"rect","color":"#bf00bf","opacity":0.2},
  "encoding":{"x":{"field":"lo","type":"quantitative"},"x2":{"field":"hi"},"y":{"datum":6.5},"y2":{"datum":9.6}}},
 {"data":{"name":"uda"},"mark":{"type":"point","filled":true,"size":42,"strokeWidth":0,"opacity":1},
  "encoding":{
   "fill":{"datum":"Unspotted, DA","type":"nominal","title":null,"scale":{"domain":["Unspotted, DA","Unspotted, DB","Unspotted, DC","Unspotted, Other/Unk.","Spotted, DA","Spotted, DB","Spotted, DC","Spotted, Other/Unk.","Magnetic (B ≥ 2MG)"]},
    "legend":{"title":null,"encoding":{"symbols":{"size":{"value":{"expr":"indexof('' + datum.value, 'Spotted') == 0 ? 460 : (indexof('' + datum.value, 'Magnetic') == 0 ? 420 : 42)"}},"stroke":{"value":{"expr":"indexof('' + datum.value, 'Unspotted') == 0 ? 'transparent' : '#000000'"}},"strokeWidth":{"value":{"expr":"indexof('' + datum.value, 'Unspotted') == 0 ? 4 : 1"}}}}}},
   "shape":{"datum":"Unspotted, DA","type":"nominal","title":null,"scale":{"domain":["Unspotted, DA","Unspotted, DB","Unspotted, DC","Unspotted, Other/Unk.","Spotted, DA","Spotted, DB","Spotted, DC","Spotted, Other/Unk.","Magnetic (B ≥ 2MG)"]},
    "legend":{"title":null,"encoding":{"symbols":{"size":{"value":{"expr":"indexof('' + datum.value, 'Spotted') == 0 ? 460 : (indexof('' + datum.value, 'Magnetic') == 0 ? 420 : 42)"}},"stroke":{"value":{"expr":"indexof('' + datum.value, 'Unspotted') == 0 ? 'transparent' : '#000000'"}},"strokeWidth":{"value":{"expr":"indexof('' + datum.value, 'Unspotted') == 0 ? 4 : 1"}}}}}}
  }},
 {"data":{"name":"udb"},"mark":{"type":"point","filled":true,"size":42,"strokeWidth":0,"opacity":1},
  "encoding":{
   "fill":{"datum":"Unspotted, DB","type":"nominal","title":null,"scale":{"domain":["Unspotted, DA","Unspotted, DB","Unspotted, DC","Unspotted, Other/Unk.","Spotted, DA","Spotted, DB","Spotted, DC","Spotted, Other/Unk.","Magnetic (B ≥ 2MG)"]}},
   "shape":{"datum":"Unspotted, DB","type":"nominal","title":null,"scale":{"domain":["Unspotted, DA","Unspotted, DB","Unspotted, DC","Unspotted, Other/Unk.","Spotted, DA","Spotted, DB","Spotted, DC","Spotted, Other/Unk.","Magnetic (B ≥ 2MG)"]}}
  }},
 {"data":{"name":"udc"},"mark":{"type":"point","filled":true,"size":42,"strokeWidth":0,"opacity":1},
  "encoding":{
   "fill":{"datum":"Unspotted, DC","type":"nominal","title":null,"scale":{"domain":["Unspotted, DA","Unspotted, DB","Unspotted, DC","Unspotted, Other/Unk.","Spotted, DA","Spotted, DB","Spotted, DC","Spotted, Other/Unk.","Magnetic (B ≥ 2MG)"]}},
   "shape":{"datum":"Unspotted, DC","type":"nominal","title":null,"scale":{"domain":["Unspotted, DA","Unspotted, DB","Unspotted, DC","Unspotted, Other/Unk.","Spotted, DA","Spotted, DB","Spotted, DC","Spotted, Other/Unk.","Magnetic (B ≥ 2MG)"]}}
  }},
 {"data":{"name":"uot"},"mark":{"type":"point","filled":true,"size":42,"strokeWidth":0,"opacity":1},
  "encoding":{
   "fill":{"datum":"Unspotted, Other/Unk.","type":"nominal","title":null,"scale":{"domain":["Unspotted, DA","Unspotted, DB","Unspotted, DC","Unspotted, Other/Unk.","Spotted, DA","Spotted, DB","Spotted, DC","Spotted, Other/Unk.","Magnetic (B ≥ 2MG)"]}},
   "shape":{"datum":"Unspotted, Other/Unk.","type":"nominal","title":null,"scale":{"domain":["Unspotted, DA","Unspotted, DB","Unspotted, DC","Unspotted, Other/Unk.","Spotted, DA","Spotted, DB","Spotted, DC","Spotted, Other/Unk.","Magnetic (B ≥ 2MG)"]}}
  }},
 {"data":{"name":"sda"},"mark":{"type":"point","filled":true,"size":460,"stroke":"#000000","strokeWidth":1,"opacity":1},
  "encoding":{
   "fill":{"datum":"Spotted, DA","type":"nominal","title":null,"scale":{"domain":["Unspotted, DA","Unspotted, DB","Unspotted, DC","Unspotted, Other/Unk.","Spotted, DA","Spotted, DB","Spotted, DC","Spotted, Other/Unk.","Magnetic (B ≥ 2MG)"]}},
   "shape":{"datum":"Spotted, DA","type":"nominal","title":null,"scale":{"domain":["Unspotted, DA","Unspotted, DB","Unspotted, DC","Unspotted, Other/Unk.","Spotted, DA","Spotted, DB","Spotted, DC","Spotted, Other/Unk.","Magnetic (B ≥ 2MG)"]}}
  }},
 {"data":{"name":"sdb"},"mark":{"type":"point","filled":true,"size":460,"stroke":"#000000","strokeWidth":1,"opacity":1},
  "encoding":{
   "fill":{"datum":"Spotted, DB","type":"nominal","title":null,"scale":{"domain":["Unspotted, DA","Unspotted, DB","Unspotted, DC","Unspotted, Other/Unk.","Spotted, DA","Spotted, DB","Spotted, DC","Spotted, Other/Unk.","Magnetic (B ≥ 2MG)"]}},
   "shape":{"datum":"Spotted, DB","type":"nominal","title":null,"scale":{"domain":["Unspotted, DA","Unspotted, DB","Unspotted, DC","Unspotted, Other/Unk.","Spotted, DA","Spotted, DB","Spotted, DC","Spotted, Other/Unk.","Magnetic (B ≥ 2MG)"]}}
  }},
 {"data":{"name":"sdc"},"mark":{"type":"point","filled":true,"size":460,"stroke":"#000000","strokeWidth":1,"opacity":1},
  "encoding":{
   "fill":{"datum":"Spotted, DC","type":"nominal","title":null,"scale":{"domain":["Unspotted, DA","Unspotted, DB","Unspotted, DC","Unspotted, Other/Unk.","Spotted, DA","Spotted, DB","Spotted, DC","Spotted, Other/Unk.","Magnetic (B ≥ 2MG)"]}},
   "shape":{"datum":"Spotted, DC","type":"nominal","title":null,"scale":{"domain":["Unspotted, DA","Unspotted, DB","Unspotted, DC","Unspotted, Other/Unk.","Spotted, DA","Spotted, DB","Spotted, DC","Spotted, Other/Unk.","Magnetic (B ≥ 2MG)"]}}
  }},
 {"data":{"name":"sot"},"mark":{"type":"point","filled":true,"size":460,"stroke":"#000000","strokeWidth":1,"opacity":1},
  "encoding":{
   "fill":{"datum":"Spotted, Other/Unk.","type":"nominal","title":null,"scale":{"domain":["Unspotted, DA","Unspotted, DB","Unspotted, DC","Unspotted, Other/Unk.","Spotted, DA","Spotted, DB","Spotted, DC","Spotted, Other/Unk.","Magnetic (B ≥ 2MG)"]}},
   "shape":{"datum":"Spotted, Other/Unk.","type":"nominal","title":null,"scale":{"domain":["Unspotted, DA","Unspotted, DB","Unspotted, DC","Unspotted, Other/Unk.","Spotted, DA","Spotted, DB","Spotted, DC","Spotted, Other/Unk.","Magnetic (B ≥ 2MG)"]}}
  }},
 {"data":{"name":"mag"},"mark":{"type":"point","filled":true,"size":420,"stroke":"#000000","strokeWidth":1.2,"opacity":1},
  "encoding":{
   "fill":{"datum":"Magnetic (B ≥ 2MG)","type":"nominal","title":null,"scale":{"domain":["Unspotted, DA","Unspotted, DB","Unspotted, DC","Unspotted, Other/Unk.","Spotted, DA","Spotted, DB","Spotted, DC","Spotted, Other/Unk.","Magnetic (B ≥ 2MG)"]}},
   "shape":{"datum":"Magnetic (B ≥ 2MG)","type":"nominal","title":null,"scale":{"domain":["Unspotted, DA","Unspotted, DB","Unspotted, DC","Unspotted, Other/Unk.","Spotted, DA","Spotted, DB","Spotted, DC","Spotted, Other/Unk.","Magnetic (B ≥ 2MG)"]}}
  }}
]
}
